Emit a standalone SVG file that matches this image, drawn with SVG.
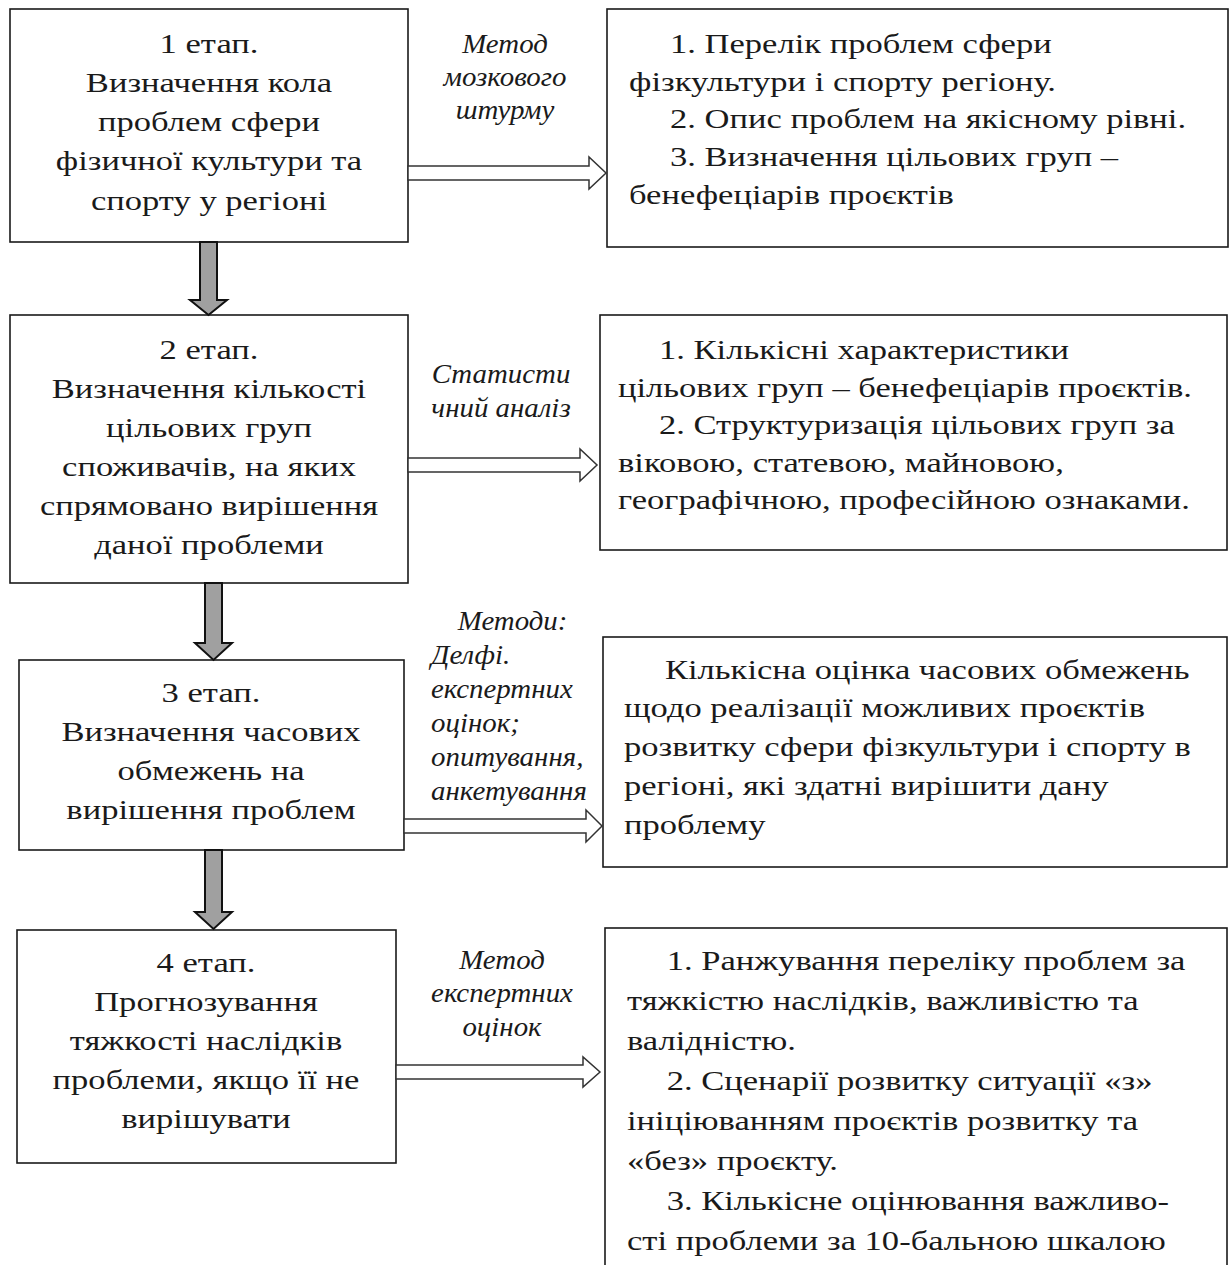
<svg xmlns="http://www.w3.org/2000/svg" width="1230" height="1265" viewBox="0 0 1230 1265">
<style>
.box{fill:#fff;stroke:#1a1a1a;stroke-width:1.6}
.t{font-family:"Liberation Serif","Times New Roman",serif;font-size:27px;fill:#1a1a1a}
.c{text-anchor:middle}
.it{font-family:"Liberation Serif","Times New Roman",serif;font-size:27px;font-style:italic;fill:#1a1a1a}
.ha{fill:#fff;stroke:#333;stroke-width:1.5;stroke-linejoin:miter}
.va{fill:#a0a0a0;stroke:#111;stroke-width:2;stroke-linejoin:miter}
</style>
<rect width="1230" height="1265" fill="#fff"/>

<g id="stage1">
<rect class="box" x="10" y="9" width="398" height="233"/>
<text class="t c" transform="matrix(1.28 0 0 1 209 0)"><tspan x="0" y="53">1 етап.</tspan><tspan x="0" y="92">Визначення кола</tspan><tspan x="0" y="131">проблем сфери</tspan><tspan x="0" y="170">фізичної культури та</tspan><tspan x="0" y="210">спорту у регіоні</tspan></text>
</g>

<g id="result1">
<rect class="box" x="607" y="9" width="621" height="238"/>
<text class="t" transform="matrix(1.28 0 0 1 629 0)"><tspan x="32" y="53">1. Перелік проблем сфери</tspan><tspan x="0" y="91">фізкультури і спорту регіону.</tspan><tspan x="32" y="128">2. Опис проблем на якісному рівні.</tspan><tspan x="32" y="166">3. Визначення цільових груп –</tspan><tspan x="0" y="204">бенефеціарів проєктів</tspan></text>
</g>

<g id="stage2">
<rect class="box" x="10" y="315" width="398" height="268"/>
<text class="t c" transform="matrix(1.28 0 0 1 209 0)"><tspan x="0" y="359">2 етап.</tspan><tspan x="0" y="398">Визначення кількості</tspan><tspan x="0" y="437">цільових груп</tspan><tspan x="0" y="476">споживачів, на яких</tspan><tspan x="0" y="515">спрямовано вирішення</tspan><tspan x="0" y="554">даної проблеми</tspan></text>
</g>

<g id="result2">
<rect class="box" x="600" y="315" width="627" height="235"/>
<text class="t" transform="matrix(1.28 0 0 1 618 0)"><tspan x="32" y="359">1. Кількісні характеристики</tspan><tspan x="0" y="397">цільових груп – бенефеціарів проєктів.</tspan><tspan x="32" y="434">2. Структуризація цільових груп за</tspan><tspan x="0" y="472">віковою, статевою, майновою,</tspan><tspan x="0" y="509">географічною, професійною ознаками.</tspan></text>
</g>

<g id="stage3">
<rect class="box" x="19" y="660" width="385" height="190"/>
<text class="t c" transform="matrix(1.28 0 0 1 211 0)"><tspan x="0" y="702">3 етап.</tspan><tspan x="0" y="741">Визначення часових</tspan><tspan x="0" y="780">обмежень на</tspan><tspan x="0" y="819">вирішення проблем</tspan></text>
</g>

<g id="result3">
<rect class="box" x="603" y="637" width="624" height="230"/>
<text class="t" transform="matrix(1.28 0 0 1 624 0)"><tspan x="32" y="679">Кількісна оцінка часових обмежень</tspan><tspan x="0" y="717">щодо реалізації можливих проєктів</tspan><tspan x="0" y="756">розвитку сфери фізкультури і спорту в</tspan><tspan x="0" y="795">регіоні, які здатні вирішити дану</tspan><tspan x="0" y="834">проблему</tspan></text>
</g>

<g id="stage4">
<rect class="box" x="17" y="930" width="379" height="233"/>
<text class="t c" transform="matrix(1.28 0 0 1 206 0)"><tspan x="0" y="972">4 етап.</tspan><tspan x="0" y="1011">Прогнозування</tspan><tspan x="0" y="1050">тяжкості наслідків</tspan><tspan x="0" y="1089">проблеми, якщо її не</tspan><tspan x="0" y="1128">вирішувати</tspan></text>
</g>

<g id="result4">
<rect class="box" x="605" y="928" width="622" height="350"/>
<text class="t" transform="matrix(1.28 0 0 1 627 0)"><tspan x="31" y="970">1. Ранжування переліку проблем за</tspan><tspan x="0" y="1010">тяжкістю наслідків, важливістю та</tspan><tspan x="0" y="1050">валідністю.</tspan><tspan x="31" y="1090">2. Сценарії розвитку ситуації «з»</tspan><tspan x="0" y="1130">ініціюванням проєктів розвитку та</tspan><tspan x="0" y="1170">«без» проєкту.</tspan><tspan x="31" y="1210">3. Кількісне оцінювання важливо-</tspan><tspan x="0" y="1250">сті проблеми за 10-бальною шкалою</tspan></text>
</g>

<g id="connectors">
<polygon class="va" points="200,242 217,242 217,300 227,300 208.5,315 190,300 200,300"/>
<polygon class="va" points="205,583 222,583 222,643 232,643 213.5,660 195,643 205,643"/>
<polygon class="va" points="205,850 222,850 222,912 232,912 213.5,929 195,912 205,912"/>

<polygon class="ha" points="408,166 589,166 589,157 606,173 589,189 589,180 408,180"/>
<polygon class="ha" points="408,458 580,458 580,449 597,465 580,481 580,472 408,472"/>
<polygon class="ha" points="404,819 586,819 586,810 602,826 586,842 586,833 404,833"/>
<polygon class="ha" points="396,1065 583,1065 583,1057 600,1072 583,1087 583,1079 396,1079"/>

<text class="it c" transform="matrix(1.07 0 0 1 505 0)"><tspan x="0" y="53">Метод</tspan><tspan x="0" y="86">мозкового</tspan><tspan x="0" y="119">штурму</tspan></text>
<text class="it c" transform="matrix(1.07 0 0 1 501 0)"><tspan x="0" y="383">Статисти</tspan><tspan x="0" y="417">чний аналіз</tspan></text>
<text class="it" transform="matrix(1.07 0 0 1 431 0)"><tspan x="25" y="630">Методи:</tspan><tspan x="0" y="664">Делфі.</tspan><tspan x="0" y="698">експертних</tspan><tspan x="0" y="732">оцінок;</tspan><tspan x="0" y="766">опитування,</tspan><tspan x="0" y="800">анкетування</tspan></text>
<text class="it c" transform="matrix(1.07 0 0 1 502 0)"><tspan x="0" y="969">Метод</tspan><tspan x="0" y="1002">експертних</tspan><tspan x="0" y="1036">оцінок</tspan></text>
</g>
</svg>
